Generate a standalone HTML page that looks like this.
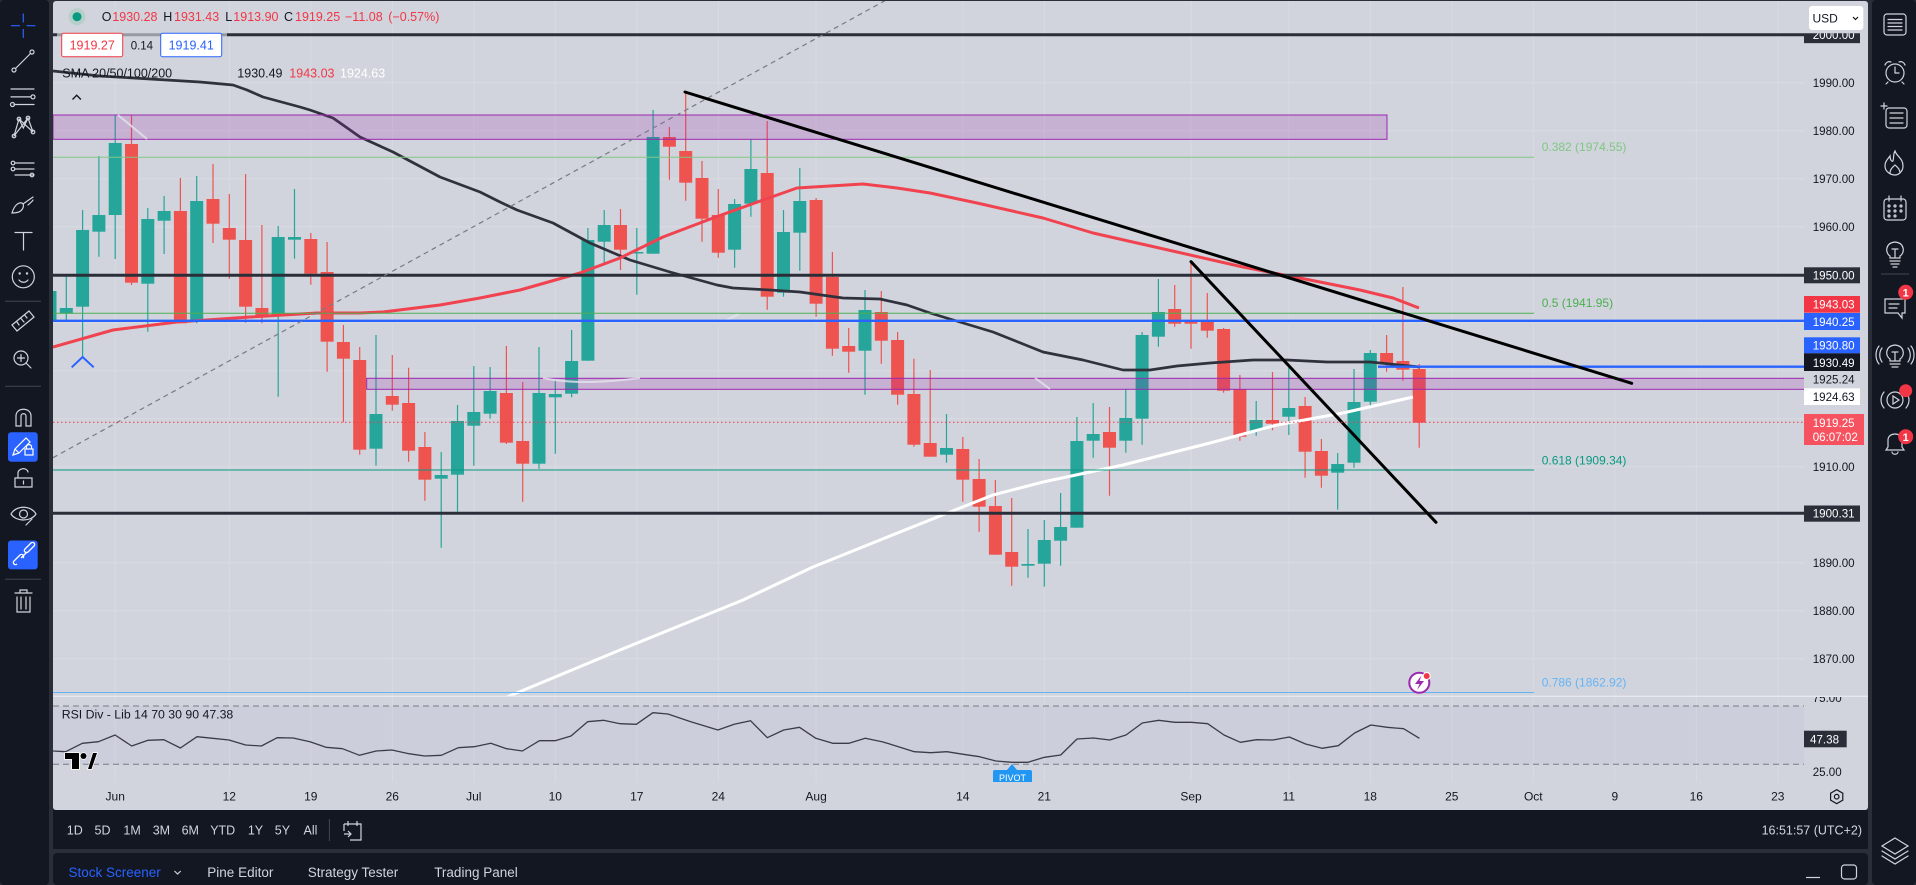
<!DOCTYPE html>
<html><head><meta charset="utf-8">
<style>
html,body{margin:0;padding:0;width:1916px;height:885px;overflow:hidden;background:#2a2e39;}
svg{display:block}
text{font-family:"Liberation Sans",Arial,sans-serif;}
</style></head><body>
<svg width="1916" height="885" viewBox="0 0 1916 885" xmlns="http://www.w3.org/2000/svg">
<defs>
<clipPath id="mainClip"><rect x="53" y="1" width="1751" height="695"/></clipPath>
<clipPath id="rsiClip"><rect x="53" y="697" width="1751" height="85"/></clipPath>
<clipPath id="lbl2000"><rect x="1804" y="33.3" width="56" height="10"/></clipPath>
<clipPath id="lbl75"><rect x="1804" y="697" width="64" height="20"/></clipPath>
</defs>

<!-- backgrounds -->
<rect x="0" y="0" width="1916" height="885" fill="#2a2e39"/>
<rect x="0" y="0" width="49" height="885" rx="4" fill="#131722"/>
<rect x="1872" y="0" width="44" height="885" rx="4" fill="#131722"/>
<rect x="53" y="1" width="1815" height="809" rx="3" fill="#d1d4dc"/>
<rect x="53" y="810" width="1815" height="39" fill="#131722"/>
<rect x="53" y="853" width="1815" height="32" rx="4" fill="#131722"/>

<!-- grid -->
<g stroke="#d9dbe2" stroke-width="1">
<path d="M53 82.7H1804M53 130.7H1804M53 178.7H1804M53 226.7H1804M53 322.7H1804M53 370.7H1804M53 418.7H1804M53 466.7H1804M53 514.7H1804M53 562.7H1804M53 610.7H1804M53 658.7H1804"/>
<path d="M115.2 1V782M229.3 1V782M310.8 1V782M392.3 1V782M473.8 1V782M555.3 1V782M636.8 1V782M718.3 1V782M816.1 1V782M962.8 1V782M1044.3 1V782M1191 1V782M1288.8 1V782M1370.3 1V782M1451.8 1V782M1533.3 1V782M1614.8 1V782M1696.3 1V782M1777.8 1V782"/>
</g>

<!-- main pane -->
<g clip-path="url(#mainClip)">
<!-- green candles -->
<g fill="#26a69a">
<path stroke="#26a69a" stroke-width="1.2" fill="none" d="M50 288V322M66.3 276V321.7M82.6 210V356.7M98.9 156V256.7M115.2 115V259M147.8 208V331.7M164.1 196V254M196.7 176V323.3M278.2 226V396.7M294.5 189V258.7M376 335V465.7M441.2 452V547.7M457.5 405V511.7M473.8 366V465.7M490.1 367V418.7M539 347V468.7M555.3 379V453.7M571.6 330V397.3M587.9 228V360.7M604.2 210V263M636.8 228V294.7M653.1 110V253.7M734.6 199V267.7M750.9 139V216.7M783.5 210V296.7M799.8 168V270.7M865 290V394.7M946.5 414V462.7M1028 529V577.7M1044.3 520V586.7M1060.6 493V565.7M1076.9 417V527.7M1093.2 403V457.7M1125.8 389V452.7M1142.1 332V444.7M1158.4 279V346.7M1256.2 401V435.7M1288.8 367V435M1337.7 453V509.7M1354 369V467.7M1370.3 350V405.7"/>
<rect x="43.5" y="291" width="13" height="30.7"/>
<rect x="59.8" y="308" width="13" height="5.7"/>
<rect x="76.1" y="230" width="13" height="76.7"/>
<rect x="92.4" y="215" width="13" height="16.7"/>
<rect x="108.7" y="143" width="13" height="72"/>
<rect x="141.3" y="219" width="13" height="64.7"/>
<rect x="157.6" y="211" width="13" height="9.7"/>
<rect x="190.2" y="201" width="13" height="120.7"/>
<rect x="271.7" y="237" width="13" height="78.7"/>
<rect x="288" y="237" width="13" height="2.7"/>
<rect x="369.5" y="414" width="13" height="34.7"/>
<rect x="434.7" y="475" width="13" height="3.7"/>
<rect x="451" y="421" width="13" height="53.7"/>
<rect x="467.3" y="412" width="13" height="13.7"/>
<rect x="483.6" y="391" width="13" height="22.7"/>
<rect x="532.5" y="393" width="13" height="70.7"/>
<rect x="548.8" y="394" width="13" height="3.3"/>
<rect x="565.1" y="361" width="13" height="32.7"/>
<rect x="581.4" y="240" width="13" height="120.7"/>
<rect x="597.7" y="225" width="13" height="16.7"/>
<rect x="630.3" y="252" width="13" height="1.5"/>
<rect x="646.6" y="137" width="13" height="116.7"/>
<rect x="728.1" y="204" width="13" height="45.7"/>
<rect x="744.4" y="169" width="13" height="34.7"/>
<rect x="777" y="232" width="13" height="60.7"/>
<rect x="793.3" y="201" width="13" height="31.7"/>
<rect x="858.5" y="310" width="13" height="40.7"/>
<rect x="940" y="448" width="13" height="6.7"/>
<rect x="1021.5" y="564" width="13" height="1.7"/>
<rect x="1037.8" y="540" width="13" height="23.7"/>
<rect x="1054.1" y="527" width="13" height="13.7"/>
<rect x="1070.4" y="441" width="13" height="86.7"/>
<rect x="1086.7" y="434" width="13" height="6.7"/>
<rect x="1119.3" y="418" width="13" height="22.7"/>
<rect x="1135.6" y="335" width="13" height="83.7"/>
<rect x="1151.9" y="312" width="13" height="24.7"/>
<rect x="1249.7" y="420" width="13" height="10.7"/>
<rect x="1282.3" y="408" width="13" height="8.7"/>
<rect x="1331.2" y="464" width="13" height="8.7"/>
<rect x="1347.5" y="402" width="13" height="60.7"/>
<rect x="1363.8" y="353" width="13" height="48.7"/>
</g>
<!-- red candles -->
<g fill="#ef5350">
<path stroke="#ef5350" stroke-width="1.2" fill="none" d="M131.5 115V285M180.4 178V323.3M213 164V243M229.3 194V278.7M245.6 174V322.7M261.9 225V323.3M310.8 233V284.7M327.1 242V371.7M343.4 325V422.3M359.7 347V454.7M392.3 355V410.7M408.6 367.7V461.7M424.9 432V500.7M506.4 346V444M522.7 382V501.7M620.5 209V270M669.4 127V179.7M685.7 93V200.7M702 161V241.7M718.3 189V257.7M767.2 121V309.7M816.1 198V316.7M832.4 252V355.7M848.7 328V372.7M881.3 291V363.7M897.6 332V404.7M913.9 358.7V446.7M930.2 370V456.7M962.8 437V501.7M979.1 459V531.7M995.4 480V554.7M1011.7 498V585.7M1109.5 407V495.7M1174.7 285V326.7M1191 261V348.7M1207.3 293V337.7M1223.6 328V392.7M1239.9 375V440.7M1272.5 372V430.3M1305.1 397V477.7M1321.4 439V487.7M1386.6 335V371.7M1402.9 287V380.7M1419.2 364V447.7"/>
<rect x="125" y="144" width="13" height="138.7"/>
<rect x="173.9" y="211" width="13" height="112.3"/>
<rect x="206.5" y="199" width="13" height="24.7"/>
<rect x="222.8" y="228" width="13" height="11.7"/>
<rect x="239.1" y="240" width="13" height="66.7"/>
<rect x="255.4" y="308" width="13" height="7.7"/>
<rect x="304.3" y="239" width="13" height="34.7"/>
<rect x="320.6" y="272" width="13" height="69.7"/>
<rect x="336.9" y="342" width="13" height="16.7"/>
<rect x="353.2" y="360" width="13" height="89.7"/>
<rect x="385.8" y="396" width="13" height="8.7"/>
<rect x="402.1" y="403" width="13" height="47.7"/>
<rect x="418.4" y="447" width="13" height="32.7"/>
<rect x="499.9" y="393" width="13" height="49.7"/>
<rect x="516.2" y="441" width="13" height="22.7"/>
<rect x="614" y="225" width="13" height="24.7"/>
<rect x="662.9" y="137" width="13" height="9.7"/>
<rect x="679.2" y="151" width="13" height="31.7"/>
<rect x="695.5" y="178" width="13" height="40.7"/>
<rect x="711.8" y="215" width="13" height="37.7"/>
<rect x="760.7" y="173" width="13" height="123.7"/>
<rect x="809.6" y="200" width="13" height="103.7"/>
<rect x="825.9" y="277" width="13" height="71.7"/>
<rect x="842.2" y="346" width="13" height="5.7"/>
<rect x="874.8" y="312" width="13" height="28.7"/>
<rect x="891.1" y="340" width="13" height="54.7"/>
<rect x="907.4" y="394" width="13" height="50.7"/>
<rect x="923.7" y="443" width="13" height="13.7"/>
<rect x="956.3" y="449" width="13" height="30.7"/>
<rect x="972.6" y="479" width="13" height="27.7"/>
<rect x="988.9" y="506" width="13" height="48.7"/>
<rect x="1005.2" y="552" width="13" height="14.7"/>
<rect x="1103" y="432" width="13" height="15.7"/>
<rect x="1168.2" y="309" width="13" height="14.7"/>
<rect x="1184.5" y="321.7" width="13" height="2"/>
<rect x="1200.8" y="321" width="13" height="9.7"/>
<rect x="1217.1" y="329" width="13" height="61.7"/>
<rect x="1233.4" y="389" width="13" height="47.7"/>
<rect x="1266" y="420" width="13" height="3.7"/>
<rect x="1298.6" y="406" width="13" height="45.7"/>
<rect x="1314.9" y="451" width="13" height="24.7"/>
<rect x="1380.1" y="353" width="13" height="11.3"/>
<rect x="1396.4" y="361" width="13" height="8.7"/>
<rect x="1412.7" y="369" width="13" height="53.7"/>
</g>

<!-- SMAs -->
<polyline fill="none" stroke="#2f323c" stroke-width="2.7" stroke-linejoin="round" points="53,71 100,76 150,79 200,82 233,85 247,90 263,97 300,107 310,110 333,118 343,125 360,137 393,152 440,177 480,192 500,202 517,210 553,223 590,243 630,260 670,272 717,285 733,288 770,290 800,292 843,298 880,299 907,305 930,313 993,332 1043,352 1083,360 1123,370 1150,370 1177,366 1210,363 1253,360 1287,360 1327,362 1370,362 1390,364 1420,367"/>
<polyline fill="none" stroke="#f0434f" stroke-width="3" stroke-linejoin="round" points="53,347 113,330 177,322 250,317 317,313 360,313 383,312 440,305 480,298 520,290 580,273 620,258 663,237 713,218 763,200 797,188 830,186 863,184 897,188 930,193 977,203 1043,218 1093,233 1177,252 1243,267 1310,280 1360,290 1393,298 1419,308"/>
<polyline fill="none" stroke="#ffffff" stroke-width="3" stroke-linejoin="round" points="507,697 620,650 743,600 813,567 880,540 930,520 950,512 993,495 1043,482 1123,465 1210,443 1277,425 1343,413 1413,397"/>

<!-- zones -->
<rect x="53" y="115" width="1334" height="24.3" fill="rgba(156,39,176,0.2)" stroke="#9c27b0" stroke-width="1"/>
<rect x="366.7" y="378.3" width="1500" height="11" fill="rgba(156,39,176,0.2)" stroke="#9c27b0" stroke-width="1"/>

<!-- pale segments -->
<g stroke="#e4e6ec" stroke-width="2" fill="none" opacity="0.8">
<path d="M118 115L147 139"/>
<path d="M543 378Q580 386 640 378"/>
<path d="M1035 378L1050 389"/>
<path d="M726.7 320L740 313.3"/>
<path d="M368 273L383 277"/>
</g>

<!-- fib lines -->
<path d="M53 157.3H1534" stroke="#81c784" stroke-width="1"/>
<path d="M53 313.3H1534" stroke="#4caf50" stroke-width="1"/>
<path d="M53 470H1534" stroke="#089981" stroke-width="1"/>
<path d="M53 692.5H1534" stroke="#64b5f6" stroke-width="1"/>

<!-- horizontal levels -->
<path d="M53 34.7H1804M53 275.3H1804M53 513.3H1804" stroke="#2a2e39" stroke-width="3"/>
<path d="M53 320.8H1804" stroke="#2962ff" stroke-width="2.3"/>
<path d="M1378 366.7H1804" stroke="#2962ff" stroke-width="2.3"/>

<!-- dashed diagonal -->
<path d="M53 457.7L888 -1" stroke="#787b86" stroke-width="1.2" stroke-dasharray="5 4" fill="none"/>
<!-- trend lines -->
<path d="M685 92L1631.7 383.3" stroke="#000" stroke-width="3" stroke-linecap="round"/>
<path d="M1191 261.7L1436 522.3" stroke="#000" stroke-width="3" stroke-linecap="round"/>

<!-- current price line -->
<path d="M53 422.3H1804" stroke="#f23645" stroke-width="1" stroke-dasharray="1.5 2.5"/>

<!-- pivot marker -->
<path d="M71.7 367.3L82.6 357L93.7 367.3" fill="none" stroke="#2962ff" stroke-width="2"/>

<!-- lightning icon -->
<circle cx="1419.3" cy="682.7" r="10" fill="#fff" stroke="#9c27b0" stroke-width="2"/>
<path d="M1421.5 675.5L1415 684H1419.5L1417 690L1424 681H1419.5Z" fill="#9c27b0"/>
<circle cx="1426.7" cy="676" r="3.5" fill="#f23645" stroke="#fff" stroke-width="1"/>
</g>

<!-- fib labels -->
<g font-size="12">
<text x="1541.7" y="151" fill="#81c784">0.382 (1974.55)</text>
<text x="1541.7" y="307" fill="#4caf50">0.5 (1941.95)</text>
<text x="1541.7" y="464.3" fill="#089981">0.618 (1909.34)</text>
<text x="1541.7" y="686.3" fill="#64b5f6">0.786 (1862.92)</text>
</g>

<!-- pane separator -->
<path d="M53 696.3H1868" stroke="#e6e8ee" stroke-width="1.3"/>

<!-- RSI pane -->
<g clip-path="url(#rsiClip)">
<rect x="53" y="706" width="1751" height="58.3" fill="rgba(126,87,194,0.04)"/>
<path d="M53 706H1804M53 764.3H1804" stroke="#787b86" stroke-width="1" stroke-dasharray="6 4"/>
<polyline fill="none" stroke="#3a3d47" stroke-width="1.3" stroke-linejoin="round" points="53,751 65.7,751.7 82.3,743.3 98.5,741.7 115.1,735 131.7,746 148,740.3 163.8,739.7 180.4,748 197,736.7 212.8,738.3 229,740 245.6,745 261.4,746 277.2,737.7 293.1,738 310,741.7 325.9,747.3 342.5,748.7 359.5,755.3 376.1,751 391.9,750 408.9,753.7 424.7,756 441.3,755.3 458.3,747.7 474.2,746.7 490.8,743.3 506.6,748.7 522.4,751 539.4,740.7 555.2,740.7 571,736 587.6,721.7 603.5,720.3 620.1,723.7 636.3,724.3 652.9,712.7 667.9,714 690.8,721.7 717.9,730 734.2,724.3 750.5,720.7 767.3,737.7 783.7,730 799.5,727.3 815.8,738.3 832.7,743.3 849,743.3 865.3,738.3 882.1,741.7 898.5,746.7 914.3,751.7 930.6,752.7 946.9,751.7 963.3,754.3 979.6,756.7 995.9,761 1012.2,762.3 1028,762.3 1044.4,757.3 1060.7,755 1077,739 1093.4,738 1109.7,740 1126,735 1142.3,723 1158.7,720.3 1175,722.3 1191.3,722.3 1207.7,723.7 1224,735 1240.3,742.3 1256.6,739.7 1273,740 1289.3,737 1305.6,744 1322,748.3 1338.3,745.7 1354.6,733 1370.9,725 1387.2,727.3 1403.6,728.7 1419.4,738.3"/>
<path d="M1012 764L1007 770H1017Z" fill="#2196f3"/>
<rect x="993" y="770" width="39" height="16" rx="2" fill="#2196f3"/>
<text x="1012.5" y="781" font-size="9" fill="#fff" text-anchor="middle">PIVOT</text>
<!-- TV logo -->
<g stroke="#fff" stroke-width="1.5" paint-order="stroke" fill="#000">
<path d="M65 753H79V769H72V759H65Z"/>
<circle cx="83.5" cy="756" r="3"/>
<path d="M88 769L93 753H97L91.5 769Z"/>
</g>
</g>
<text x="61.7" y="718.3" font-size="12.3" fill="#131722">RSI Div - Lib 14 70 30 90  47.38</text>

<!-- price axis -->
<g font-size="11.6" fill="#131722">
<text x="1812.7" y="86.9">1990.00</text>
<text x="1812.7" y="134.9">1980.00</text>
<text x="1812.7" y="182.9">1970.00</text>
<text x="1812.7" y="230.9">1960.00</text>
<text x="1812.7" y="470.9">1910.00</text>
<text x="1812.7" y="566.9">1890.00</text>
<text x="1812.7" y="614.9">1880.00</text>
<text x="1812.7" y="662.9">1870.00</text>
<text x="1812.7" y="383.5">1925.24</text>
<text x="1812.7" y="739.5">50.00</text>
<text x="1812.7" y="775.9">25.00</text>
<g clip-path="url(#lbl75)"><text x="1812.7" y="702.2">75.00</text></g>
</g>
<g clip-path="url(#lbl2000)">
<rect x="1804" y="26" width="56" height="17.3" fill="#2a2e39"/>
<text x="1812.7" y="38.9" font-size="11.6" fill="#fff">2000.00</text>
</g>
<g font-size="11.6" fill="#fff">
<rect x="1804" y="267.3" width="56" height="16" fill="#2a2e39"/><text x="1812.7" y="279.5">1950.00</text>
<rect x="1804" y="296" width="56" height="16.7" fill="#f23645"/><text x="1812.7" y="308.5">1943.03</text>
<rect x="1804" y="313" width="56" height="17" fill="#2962ff"/><text x="1812.7" y="325.9">1940.25</text>
<rect x="1804" y="337.3" width="56" height="16" fill="#2962ff"/><text x="1812.7" y="349.5">1930.80</text>
<rect x="1804" y="353.3" width="56" height="17.7" fill="#131722"/><text x="1812.7" y="366.9">1930.49</text>
<rect x="1804" y="388.3" width="56" height="16.7" fill="#ffffff"/><text x="1812.7" y="400.9" fill="#131722">1924.63</text>
<rect x="1804" y="414" width="60" height="31" fill="#f7525f"/><text x="1812.7" y="426.9">1919.25</text><text x="1812.7" y="441.2">06:07:02</text>
<rect x="1804" y="505.5" width="56" height="16.2" fill="#2a2e39"/><text x="1812.7" y="517.5">1900.31</text>
<rect x="1804" y="730.7" width="42.7" height="16.6" fill="#2a2e39"/><text x="1810" y="743.4">47.38</text>
</g>

<!-- USD -->
<rect x="1809" y="6" width="54.3" height="24" rx="3" fill="#fff"/>
<text x="1812.5" y="22.3" font-size="12" fill="#131722">USD</text>
<path d="M1853 17L1855.5 19.5L1858 17" fill="none" stroke="#131722" stroke-width="1.2"/>

<!-- time axis -->
<g font-size="12" fill="#131722" text-anchor="middle">
<text x="115.2" y="800.3">Jun</text>
<text x="229.3" y="800.3">12</text>
<text x="310.8" y="800.3">19</text>
<text x="392.3" y="800.3">26</text>
<text x="473.8" y="800.3">Jul</text>
<text x="555.3" y="800.3">10</text>
<text x="636.8" y="800.3">17</text>
<text x="718.3" y="800.3">24</text>
<text x="816.1" y="800.3">Aug</text>
<text x="962.8" y="800.3">14</text>
<text x="1044.3" y="800.3">21</text>
<text x="1191" y="800.3">Sep</text>
<text x="1288.8" y="800.3">11</text>
<text x="1370.3" y="800.3">18</text>
<text x="1451.8" y="800.3">25</text>
<text x="1533.3" y="800.3">Oct</text>
<text x="1614.8" y="800.3">9</text>
<text x="1696.3" y="800.3">16</text>
<text x="1777.8" y="800.3">23</text>
</g>
<path d="M1836.7 789.7L1842.8 793.2V800.2L1836.7 803.7L1830.6 800.2V793.2Z" fill="none" stroke="#131722" stroke-width="1.2"/>
<circle cx="1836.7" cy="796.7" r="2.3" fill="none" stroke="#131722" stroke-width="1.2"/>

<!-- legend -->
<rect x="57" y="29" width="170" height="32" fill="rgba(209,212,220,0.65)"/>
<circle cx="77" cy="16.7" r="8.5" fill="#b7cfc9"/>
<circle cx="77" cy="16.7" r="4.5" fill="#089981"/>
<g font-size="12.5">
<text x="101.7" y="21" fill="#131722">O</text><text x="112.3" y="21" fill="#f23645">1930.28</text>
<text x="163.3" y="21" fill="#131722">H</text><text x="174" y="21" fill="#f23645">1931.43</text>
<text x="225.3" y="21" fill="#131722">L</text><text x="233.3" y="21" fill="#f23645">1913.90</text>
<text x="284" y="21" fill="#131722">C</text><text x="295" y="21" fill="#f23645">1919.25</text>
<text x="345" y="21" fill="#f23645">−11.08</text>
<text x="388.3" y="21" fill="#f23645">(−0.57%)</text>
<rect x="61.7" y="33.3" width="61" height="23.4" rx="2" fill="#fff" stroke="#f23645" stroke-width="1"/>
<text x="92.2" y="49.3" fill="#f23645" text-anchor="middle">1919.27</text>
<text x="130.7" y="49.3" fill="#131722" font-size="11.5">0.14</text>
<rect x="160.7" y="33.3" width="61" height="23.4" rx="2" fill="#fff" stroke="#2962ff" stroke-width="1"/>
<text x="191.2" y="49.3" fill="#2962ff" text-anchor="middle">1919.41</text>
<text x="62.3" y="77.6" fill="#131722">SMA 20/50/100/200</text>
<text x="237.3" y="77.6" fill="#131722">1930.49</text>
<text x="289.3" y="77.6" fill="#f23645">1943.03</text>
<text x="340" y="77.6" fill="#ffffff">1924.63</text>
</g>
<path d="M72.5 99.5L76.7 95.3L80.9 99.5" fill="none" stroke="#131722" stroke-width="1.4"/>

<!-- bottom toolbar -->
<g font-size="12.5" fill="#d1d4dc" text-anchor="middle">
<text x="74.8" y="834.5">1D</text>
<text x="102.5" y="834.5">5D</text>
<text x="132.1" y="834.5">1M</text>
<text x="161.4" y="834.5">3M</text>
<text x="190.3" y="834.5">6M</text>
<text x="222.7" y="834.5">YTD</text>
<text x="255.5" y="834.5">1Y</text>
<text x="282.4" y="834.5">5Y</text>
<text x="310.5" y="834.5">All</text>
</g>
<path d="M329.4 819V841" stroke="#434651" stroke-width="1"/>
<g fill="none" stroke="#d1d4dc" stroke-width="1.2">
<path d="M344 824H361V840H350M344 831V824M348 821V826M357 821V826M344 834H351M348 831L351 834L348 837"/>
</g>
<text x="1862" y="834.5" font-size="12.5" fill="#d1d4dc" text-anchor="end">16:51:57 (UTC+2)</text>

<!-- bottom panel -->
<g font-size="13.5">
<text x="68.5" y="877" fill="#2962ff">Stock Screener</text>
<text x="207.3" y="877" fill="#d1d4dc">Pine Editor</text>
<text x="307.7" y="877" fill="#d1d4dc">Strategy Tester</text>
<text x="434.2" y="877" fill="#d1d4dc">Trading Panel</text>
</g>
<path d="M174.5 871L177.6 874L180.7 871" fill="none" stroke="#d1d4dc" stroke-width="1.2"/>
<path d="M1806 877.5H1820" stroke="#d1d4dc" stroke-width="1.2"/>
<rect x="1841.5" y="865" width="15" height="14" rx="3" fill="none" stroke="#d1d4dc" stroke-width="1.2"/>

<!-- left toolbar icons -->
<g fill="none" stroke="#d1d4dc" stroke-width="1.2" stroke-linecap="round">
<path d="M23.3 14V22M23.3 29.5V37.5M11.5 25.7H19.5M27 25.7H35" stroke="#2962ff"/>
<path d="M15.5 68.5L30.5 53.5"/><circle cx="14" cy="70" r="2"/><circle cx="32" cy="52" r="2"/>
<path d="M11 89H34M11 96.9H31M14 104.5H34"/><circle cx="33" cy="96.9" r="2"/><circle cx="12.5" cy="104.5" r="2"/>
<path d="M14 136L19 119L23.3 128L28 118L33 132L19 119M14 136L28 118"/><circle cx="14" cy="136" r="1.8"/><circle cx="33" cy="132" r="1.8"/><circle cx="19" cy="119" r="1.8"/><circle cx="28" cy="118" r="1.8"/>
<path d="M15 163H34M15 169H34M15 175H34"/><circle cx="13" cy="163" r="1.8"/><circle cx="13" cy="169" r="1.8"/><circle cx="32" cy="175" r="1.8"/>
<path d="M12 213C14 206 18 202 22 203C25 205 23 210 19 212C16 213 13 213 12 213ZM23 204L33 197M28 205C30 203 32 202 33 200"/>
<path d="M15 232.5H32M23.5 232.5V250"/>
<circle cx="23.3" cy="276.8" r="11"/><path d="M19 280C21.5 283 25.5 283 28 280"/><circle cx="19.7" cy="273.5" r="0.6"/><circle cx="27" cy="273.5" r="0.6"/>
<path d="M12 325L29 311L34 317L17 331ZM17 322L19 325M21 318.5L24 322M25 315.5L27 318"/>
<circle cx="21" cy="358" r="7"/><path d="M21 354.5V361.5M17.5 358H24.5M26 363L31 368"/>
<path d="M16 426V416C16 407 31 407 31 416V426H26V416C26 413 21 413 21 416V426Z"/>
<path d="M15 487V478H32V487ZM18 478V473C18 468 27 467 28 472M23.5 481V484"/>
<path d="M11 514C16 505 31 505 36 514C31 522 16 522 11 514Z"/><circle cx="23.5" cy="514" r="4"/><path d="M26 525L32 519"/>
<path d="M15 593H32M17 597V612H30V597M21 597V609M26 597V609M20 593V590H27V593"/>
</g>
<g stroke="#d1d4dc" stroke-width="1">
<path d="M5 301.3H41M5 386.3H41M5 579.3H41" stroke="#434651"/>
</g>
<rect x="8" y="432.2" width="29.7" height="29.6" rx="3" fill="#2962ff"/>
<g fill="none" stroke="#fff" stroke-width="1.2">
<path d="M13 455L15 449L26 438L30 442L19 453ZM15 449L19 453"/>
<rect x="25" y="449" width="8" height="6"/><path d="M26.5 449V446.5C26.5 444 31.5 444 31.5 446.5V449"/>
</g>
<rect x="8" y="540.5" width="29.7" height="28.9" rx="3" fill="#2962ff"/>
<g fill="none" stroke="#fff" stroke-width="1.3">
<path d="M14 561L20 555M17 564C15 566 12 563 14 561L20 555C22 553 25 556 23 558M25 549L31 543C33 541 36 544 34 546L28 552C26 554 23 551 25 549M21 558L27 552"/>
</g>

<!-- right toolbar icons -->
<g fill="none" stroke="#d1d4dc" stroke-width="1.2" stroke-linecap="round">
<rect x="1884" y="14" width="22" height="21" rx="3"/><path d="M1888 19.5H1902M1888 23H1902M1888 26.5H1902M1888 30H1902"/>
<circle cx="1895" cy="73" r="9"/><path d="M1895 67V73H1899M1885 65C1886 62 1889 61 1891 62M1905 65C1904 62 1901 61 1899 62M1888 82L1886 84M1902 82L1904 84"/>
<rect x="1886" y="108" width="21" height="20" rx="3"/><path d="M1881 106H1887M1884 103V109M1890 113H1903M1890 118H1903M1890 123H1903"/>
<path d="M1895 151C1897 157 1903 158 1903 166C1903 172 1898 175 1895 175C1891 175 1885 172 1885 166C1885 161 1888 159 1890 156C1890 160 1892 162 1893 161C1894 158 1893 154 1895 151ZM1890 173C1890 169 1893 167 1895 165C1897 167 1900 169 1900 173"/>
<rect x="1884" y="199" width="22" height="21" rx="3"/><path d="M1889 196V201M1901 196V201"/><circle cx="1889" cy="206" r="1"/><circle cx="1895" cy="206" r="1"/><circle cx="1901" cy="206" r="1"/><circle cx="1889" cy="211" r="1"/><circle cx="1895" cy="211" r="1"/><circle cx="1901" cy="211" r="1"/><circle cx="1889" cy="216" r="1"/><circle cx="1895" cy="216" r="1"/>
<path d="M1890 256C1885 253 1885 243 1895 242C1905 243 1905 253 1900 256V258H1890ZM1890 261H1900M1891 264H1899M1893 267H1897M1892 249H1898M1895 249V257"/>
<path d="M1885 299H1905V313H1902V318L1898 313H1885ZM1889 304H1899M1889 308H1897"/>
<path d="M1890 359C1885 356 1885 346 1895 345C1905 346 1905 356 1900 359V361H1890ZM1890 364H1900M1892 367H1898M1892 352H1898M1895 352V360M1882 348C1879 352 1879 358 1882 362M1908 348C1911 352 1911 358 1908 362M1879 346C1875 351 1875 359 1879 364M1911 346C1915 351 1915 359 1911 364"/>
<circle cx="1895" cy="400" r="8"/><path d="M1893 396V404L1899 400Z"/><path d="M1884 392C1880 397 1880 403 1884 408M1906 392C1910 397 1910 403 1906 408"/>
<path d="M1886 450H1904L1902 447V440C1902 432 1888 432 1888 440V447ZM1892 452C1892 455 1898 455 1898 452"/>
<path d="M1895 838L1908 846L1895 854L1882 846ZM1882 851L1895 859L1908 851M1882 856L1895 864L1908 856"/>
</g>
<path d="M1881 274H1909" stroke="#434651" stroke-width="1"/>
<circle cx="1905.7" cy="292.3" r="7.5" fill="#f23645"/><text x="1905.7" y="296.6" font-size="11" font-weight="bold" fill="#fff" text-anchor="middle">1</text>
<circle cx="1905.7" cy="390.7" r="6.5" fill="#f23645"/>
<circle cx="1905.7" cy="436.7" r="7.5" fill="#f23645"/><text x="1905.7" y="441" font-size="11" font-weight="bold" fill="#fff" text-anchor="middle">1</text>
</svg>
</body></html>
